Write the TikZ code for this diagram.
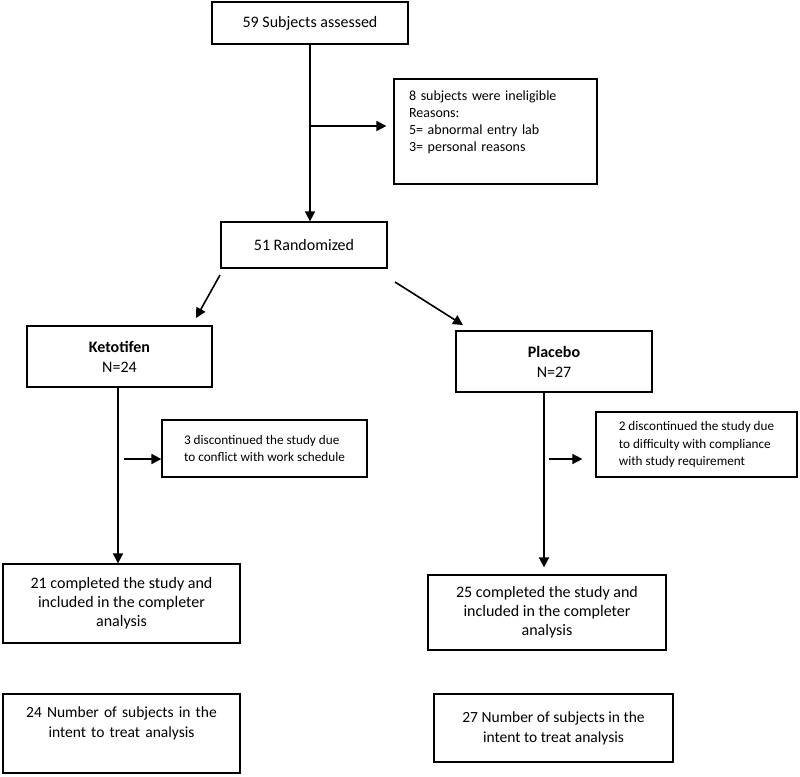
\documentclass[tikz,border=0pt]{standalone}
\usepackage{fontspec}
\setmainfont{Carlito}
\usetikzlibrary{arrows.meta}
\tikzset{
  box/.style={draw, line width=1.2pt, inner sep=0pt, align=center,
    font=\fontsize{16}{19}\selectfont},
  topbox/.style={box, inner xsep=15pt, inner ysep=0pt},
  small/.style={font=\fontsize{13.2}{17.3}\selectfont},
  arr/.style={-{Triangle[length=10pt,width=10pt]}, line width=1.6pt}
}
\begin{document}
\begin{tikzpicture}[x=1pt,y=-1pt]
  \useasboundingbox (0,0) rectangle (800,776);
  % Nodi
  \node[box, minimum width=196pt, minimum height=42pt] (1) at (310,23) {59 Subjects assessed};
  \node[topbox, align=left, text width=173pt, text height=21pt, text depth=84pt,
    font=\fontsize{14}{17.3}\selectfont] (2) at (495.5,131.5)
    {8 subjects were ineligible\\Reasons:\\5= abnormal entry lab\\3= personal reasons};
  \node[box, minimum width=166pt, minimum height=46pt] (3) at (304,245) {51 Randomized};
  \node[box, minimum width=185pt, minimum height=61pt, font=\fontsize{16}{20}\selectfont] (4) at (119.5,356.5)
    {\textbf{Ketotifen}\\N=24};
  \node[box, minimum width=196pt, minimum height=61pt, font=\fontsize{16}{20}\selectfont] (5) at (554,361.5)
    {\textbf{Placebo}\\N=27};
  \node[box, small, align=left, minimum width=205pt, minimum height=57pt] (6) at (264.5,448.5)
    {3 discontinued the study due\\to conflict with work schedule};
  \node[box, small, align=left, minimum width=201pt, minimum height=65pt] (7) at (696.5,444.5)
    {2 discontinued the study due\\to difficulty with compliance\\with study requirement};
  \node[box, minimum width=237pt, minimum height=79pt] (8) at (121.5,603.5)
    {21 completed the study and\\included in the completer\\analysis};
  \node[box, minimum width=238pt, minimum height=75pt] (9) at (547,612.5)
    {25 completed the study and\\included in the completer\\analysis};
  \node[topbox, text width=207pt, text height=23pt, text depth=56pt,
    font=\fontsize{15.5}{20}\selectfont] (10) at (121.5,733.5)
    {24 Number of subjects in the\\intent to treat analysis};
  \node[box, minimum width=239pt, minimum height=68pt, font=\fontsize{15.5}{20}\selectfont] (11) at (553.5,728)
    {27 Number of subjects in the\\intent to treat analysis};

  \coordinate (a) at (310,126);
  \coordinate (b) at (220,275);
  \coordinate (c) at (196,318);
  \coordinate (d) at (395,282);
  \coordinate (e) at (463,325);
  \coordinate (f) at (124,459);
  \coordinate (g) at (549,459);

  % Archi
  \draw[arr] (1) -- (1 |- 3.north);
  \draw[arr, shorten >=7pt] (a) -- (a -| 2.west);
  \draw[arr] (b) -- (c);
  \draw[arr] (d) -- (e);
  \draw[arr] (4.south -| 118,0) -- (118,0 |- 8.north);
  \draw[arr] (f) -- (f -| 6.west);
  \draw[arr, shorten >=7pt] ([xshift=-10pt]5.south) -- ([xshift=-10pt]5.south |- 9.north);
  \draw[arr, shorten >=13pt] (g) -- (g -| 7.west);
\end{tikzpicture}
\end{document}
